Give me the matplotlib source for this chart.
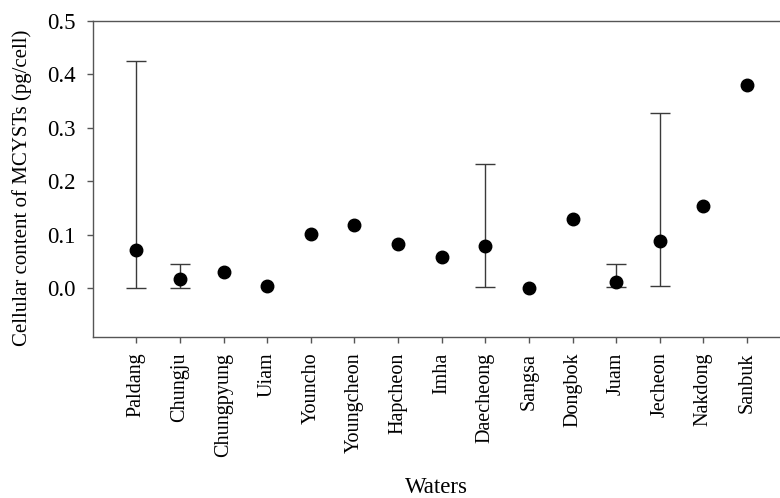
import numpy as np
import matplotlib.pyplot as plt

waters = ['Paldang', 'Chungju', 'Chungpyung', 'Uiam', 'Youncho', 'Youngcheon',
          'Hapcheon', 'Imha', 'Daecheong', 'Sangsa', 'Dongbok', 'Juam',
          'Jecheon', 'Nakdong', 'Sanbuk']
content = [0.071, 0.0175, 0.031, 0.005, 0.1015, 0.119, 0.0834, 0.0597,
           0.079, 0.001, 0.130, 0.013, 0.0896, 0.154, 0.3806]
# min / max of the range, nan where only one sample
low = [0.001, 0.0, np.nan, np.nan, np.nan, np.nan, np.nan, np.nan,
       0.003, np.nan, np.nan, 0.003, 0.005, np.nan, np.nan]
high = [0.4248, 0.0455, np.nan, np.nan, np.nan, np.nan, np.nan, np.nan,
        0.233, np.nan, np.nan, 0.046, 0.328, np.nan, np.nan]

plt.rcParams['font.family'] = ['Liberation Serif', 'DejaVu Serif']

fig = plt.figure(figsize=(7.8, 4.98), dpi=100)
ax = fig.add_axes([0.1188, 0.3239, 0.8949, 0.6345])

x = np.arange(len(waters))
y = np.array(content)
lo = np.array(low)
hi = np.array(high)
has_err = ~np.isnan(lo)

ax.errorbar(x[has_err], y[has_err],
            yerr=[y[has_err] - lo[has_err], hi[has_err] - y[has_err]],
            fmt='none', ecolor='#3a3a3a', elinewidth=1.0, capsize=7, capthick=1.0)
ax.plot(x, y, 'o', color='black', markersize=9, zorder=3)

ax.set_xlim(-1, 15)
ax.set_ylim(-0.09, 0.5)
ax.set_yticks([0.0, 0.1, 0.2, 0.3, 0.4, 0.5])
ax.set_yticklabels(['0.0', '0.1', '0.2', '0.3', '0.4', '0.5'])
ax.set_xticks(x)
ax.set_xticklabels(waters, rotation=90)

for side in ['top', 'bottom', 'left', 'right']:
    ax.spines[side].set_color('#555555')
    ax.spines[side].set_linewidth(1.0)
ax.tick_params(axis='both', direction='out', length=4.5, width=1.0,
               color='#555555')
ax.tick_params(axis='y', labelsize=16.5, pad=8)
ax.tick_params(axis='x', labelsize=14.5, pad=7)

ax.set_ylabel('Cellular content of MCYSTs (pg/cell)', fontsize=15)
ax.yaxis.set_label_coords(-0.087, 0.472)
ax.set_xlabel('Waters', fontsize=16.5)
ax.xaxis.set_label_coords(0.492, -0.445)

fig.savefig('out.png', dpi=100)
